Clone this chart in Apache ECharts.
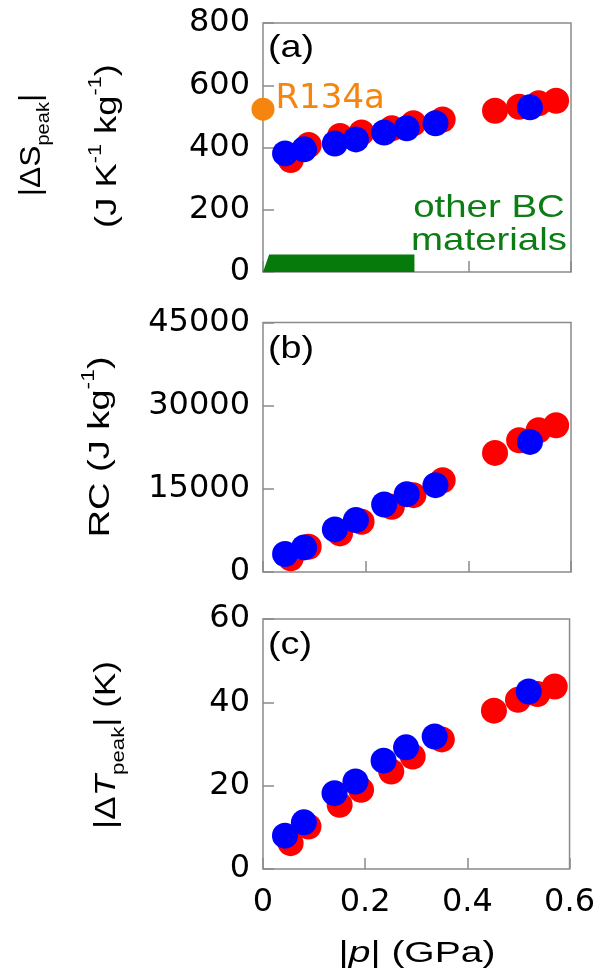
<!DOCTYPE html>
<html>
<head>
<meta charset="utf-8">
<script src="https://cdn.jsdelivr.net/npm/echarts@6/dist/echarts.min.js"></script>
<style>
  html, body { margin: 0; padding: 0; background: #fff; }
  #chart { width: 598px; height: 974px; }
</style>
</head>
<body>
<div id="chart"></div>
<script>
// Pressure magnitudes |p| (GPa) for the two sample series
const pressureRed  = [0.054, 0.089, 0.150, 0.192, 0.251, 0.293, 0.350, 0.452, 0.499, 0.537, 0.571];
const pressureBlue = [0.043, 0.080, 0.140, 0.181, 0.236, 0.280, 0.336, 0.520];

// (a) peak entropy change |ΔS_peak| (J K^-1 kg^-1)
const dSRed  = [360, 408, 437, 448, 462, 478, 490, 518, 531, 542, 550];
const dSBlue = [381, 394, 413, 426, 448, 462, 478, 529];

// (b) refrigerant capacity RC (J kg^-1)
const rcRed  = [2460, 4560, 6960, 9060, 11760, 13860, 16560, 21480, 23760, 25560, 26460];
const rcBlue = [3240, 4440, 7680, 9360, 12180, 14040, 15660, 23460];

// (c) peak temperature change |ΔT_peak| (K)
const dTRed  = [6.2, 10.2, 15.4, 19.0, 23.4, 27.0, 31.1, 38.0, 40.6, 42.0, 43.8];
const dTBlue = [8.0, 11.2, 18.2, 21.0, 26.0, 29.2, 31.8, 42.6];

// Reference refrigerant R134a and the range covered by other barocaloric materials
const r134a = [0, 523];
const otherBCRange = [0, 0.012, 0.295];   // start, ramp end, end (GPa)
const otherBCLevel = 56;

// Axis ranges and ticks
const xTicks = { min: 0, max: 0.6, interval: 0.2 };
const yTicksA = { min: 0, max: 800, interval: 200 };
const yTicksB = { min: 0, max: 45000, interval: 15000 };
const yTicksC = { min: 0, max: 60, interval: 20 };

const pairs = (xs, ys) => xs.map((x, i) => [x, ys[i]]);

const AXIS_GREY = '#8a8a8a';
const TICK_FONT = '"DejaVu Sans", sans-serif';
const TITLE_FONT = '"Liberation Sans", Arial, sans-serif';

const grids = [
  { left: 263, top: 23,    width: 308, height: 249 },
  { left: 263, top: 322.5, width: 308, height: 249.5 },
  { left: 263, top: 619,   width: 308, height: 250 }
].map(g => Object.assign(g, { show: true, borderColor: AXIS_GREY, borderWidth: 1.5, backgroundColor: 'transparent' }));

function xAxisFor(idx, showLabels) {
  return {
    type: 'value', gridIndex: idx,
    min: xTicks.min, max: xTicks.max, interval: xTicks.interval,
    axisLine: { show: false },
    axisTick: { show: true, inside: true, length: 11, lineStyle: { color: AXIS_GREY, width: 1.5 } },
    splitLine: { show: false },
    axisLabel: {
      show: showLabels, margin: 18, color: '#000', fontSize: 32, fontFamily: TICK_FONT,
      formatter: v => (v === 0 ? '0' : v.toFixed(1))
    }
  };
}

function yAxisFor(idx, t) {
  return {
    type: 'value', gridIndex: idx,
    min: t.min, max: t.max, interval: t.interval,
    axisLine: { show: false },
    axisTick: { show: true, inside: true, length: 11, lineStyle: { color: AXIS_GREY, width: 1.5 } },
    splitLine: { show: false },
    axisLabel: { margin: 13, color: '#000', fontSize: 32, fontFamily: TICK_FONT, formatter: v => String(v) }
  };
}

function dots(idx, data, color, z) {
  return {
    type: 'scatter', xAxisIndex: idx, yAxisIndex: idx,
    data, symbol: 'circle', symbolSize: 26, clip: false, z,
    itemStyle: { color, opacity: 1 },
    emphasis: { disabled: true }
  };
}

const RICH = {
  m:   { fontSize: 30, fontFamily: TITLE_FONT, lineHeight: 42, color: '#000' },
  it:  { fontSize: 30, fontFamily: TITLE_FONT, fontStyle: 'italic', lineHeight: 42, color: '#000' },
  sub: { fontSize: 19, fontFamily: TITLE_FONT, lineHeight: 21, verticalAlign: 'bottom', color: '#000' },
  sup: { fontSize: 18, fontFamily: TITLE_FONT, lineHeight: 18, verticalAlign: 'top', color: '#000' }
};

function vTitle(x, y, text, stretch) {
  return {
    type: 'text', x, y, rotation: Math.PI / 2, scaleX: stretch, scaleY: 1, z: 10,
    style: { text, rich: RICH, align: 'center', verticalAlign: 'middle' }
  };
}

function panelTag(y, text) {
  return {
    type: 'text', x: 268, y, scaleX: 1.18, z: 10,
    style: { text, fontSize: 32, fontFamily: TITLE_FONT, fill: '#000', align: 'left', verticalAlign: 'middle' }
  };
}

const option = {
  animation: false,
  backgroundColor: '#fff',
  grid: grids,
  xAxis: [xAxisFor(0, false), xAxisFor(1, false), xAxisFor(2, true)],
  yAxis: [yAxisFor(0, yTicksA), yAxisFor(1, yTicksB), yAxisFor(2, yTicksC)],
  series: [
    // range of other barocaloric materials (green band along the axis)
    {
      type: 'line', xAxisIndex: 0, yAxisIndex: 0, z: 1,
      data: [[otherBCRange[0], 0], [otherBCRange[1], otherBCLevel], [otherBCRange[2], otherBCLevel], [otherBCRange[2], 0]],
      symbol: 'none', lineStyle: { width: 0 },
      areaStyle: { color: '#077a0c', opacity: 1 },
      emphasis: { disabled: true }
    },
    {
      type: 'scatter', xAxisIndex: 0, yAxisIndex: 0, z: 3, clip: false,
      data: [r134a], symbol: 'circle', symbolSize: 23,
      itemStyle: { color: '#f5850f', opacity: 1 },
      label: {
        show: true, position: 'right', distance: 1, offset: [0, -10],
        formatter: 'R134a', color: '#f5850f', fontSize: 34, fontFamily: TICK_FONT
      },
      emphasis: { disabled: true }
    },
    dots(0, pairs(pressureRed, dSRed), '#ff0000', 4),
    dots(0, pairs(pressureBlue, dSBlue), '#0000ff', 5),
    dots(1, pairs(pressureRed, rcRed), '#ff0000', 4),
    dots(1, pairs(pressureBlue, rcBlue), '#0000ff', 5),
    dots(2, pairs(pressureRed, dTRed), '#ff0000', 4),
    dots(2, pairs(pressureBlue, dTBlue), '#0000ff', 5)
  ],
  graphic: [
    panelTag(48, '(a)'),
    panelTag(349, '(b)'),
    panelTag(645.5, '(c)'),
    {
      type: 'text', x: 489, y: 225, scaleX: 1.2, z: 10,
      style: {
        text: 'other BC\nmaterials', fontSize: 32, lineHeight: 33, fontFamily: TITLE_FONT,
        fill: '#0b7d14', align: 'center', verticalAlign: 'middle'
      }
    },
    vTitle(32, 145, '{m||ΔS}{sub|peak}{m||}', 1.06),
    vTitle(108, 146, '{m|(J K}{sup|-1}{m| kg}{sup|-1}{m|)}', 1.21),
    vTitle(101, 447, '{m|RC (J kg}{sup|-1}{m|)}', 1.27),
    vTitle(107, 745, '{m||Δ}{it|T}{sub|peak}{m|| (K)}', 1.17),
    {
      type: 'text', x: 417, y: 954, scaleX: 1.3, z: 10,
      style: {
        text: '{m||}{it|p}{m|| (GPa)}', align: 'center', verticalAlign: 'middle',
        rich: {
          m:  { fontSize: 30, fontFamily: TITLE_FONT, color: '#000' },
          it: { fontSize: 30, fontFamily: TITLE_FONT, fontStyle: 'italic', color: '#000' }
        }
      }
    }
  ]
};

const chart = echarts.init(document.getElementById('chart'), null, { renderer: 'canvas' });
chart.setOption(option);
</script>
</body>
</html>
